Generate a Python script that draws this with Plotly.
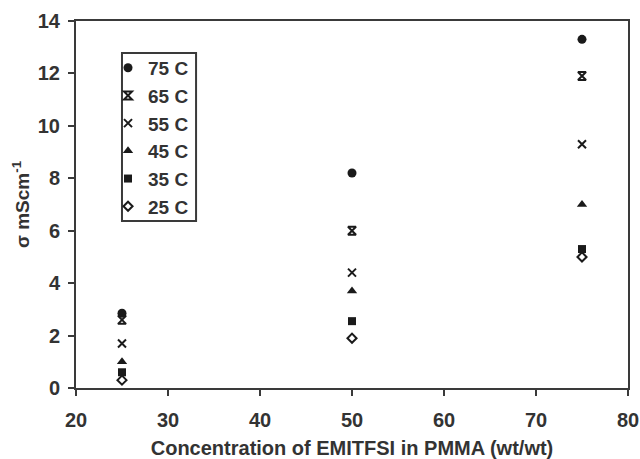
import plotly.graph_objects as go

conc = [25, 50, 75]
labels = ["75 C", "65 C", "55 C", "45 C", "35 C", "25 C"]
s75 = [2.85, 8.2, 13.3]
s65 = [2.6, 6.0, 11.9]
s55 = [1.7, 4.4, 9.3]
s45 = [1.0, 3.7, 7.0]
s35 = [0.6, 2.55, 5.3]
s25 = [0.3, 1.9, 5.0]
series = [s75, s65, s55, s45, s35, s25]

ink = "#1a1a1a"
styles = [
    dict(symbol="circle", size=9, color=ink),
    dict(symbol="hourglass-open", size=8, color=ink, line=dict(width=2, color=ink)),
    dict(symbol="x-thin-open", size=8, color=ink, line=dict(width=2, color=ink)),
    dict(symbol="triangle-up", size=9, color=ink),
    dict(symbol="square", size=8, color=ink),
    dict(symbol="diamond-open", size=7, color=ink, line=dict(width=2, color=ink)),
]

fig = go.Figure()
for i, (lab, vals, st) in enumerate(zip(labels, series, styles)):
    fig.add_trace(go.Scatter(x=conc, y=vals, mode="markers", name=lab,
                             marker=st, legendgroup=f"g{i}"))

axcol = "#3a3a3a"
fam = "Liberation Sans, Arial"
tickfont = dict(family=fam, size=20, color="#333", weight="bold")
fig.update_layout(
    width=640, height=459,
    margin=dict(l=76, r=12, t=21, b=71),
    paper_bgcolor="white", plot_bgcolor="white",
    showlegend=True,
    legend=dict(x=0.058, y=0.924, xanchor="left", yanchor="top",
                borderwidth=0, bgcolor="rgba(0,0,0,0)",
                font=dict(family=fam, size=19, color="#333", weight="bold"),
                tracegroupgap=0, itemwidth=30),
    shapes=[dict(type="rect", xref="paper", yref="paper",
                 x0=0.0833, x1=0.2175, y0=0.455, y1=0.913,
                 line=dict(color=axcol, width=2))],
    xaxis=dict(range=[20, 80], tickvals=[20, 30, 40, 50, 60, 70, 80],
               showgrid=False, zeroline=False, showline=True, linecolor=axcol, linewidth=2,
               mirror=True, ticks="outside", ticklen=6, tickwidth=2, tickcolor=axcol,
               tickfont=tickfont, ticklabelstandoff=7, automargin=False,
               title=dict(text="Concentration of EMITFSI in PMMA (wt/wt)",
                          font=dict(family=fam, size=20, color="#333", weight="bold"),
                          standoff=12)),
    yaxis=dict(range=[0, 14], tickvals=[0, 2, 4, 6, 8, 10, 12, 14],
               showgrid=False, zeroline=False, showline=True, linecolor=axcol, linewidth=2,
               mirror=True, ticks="outside", ticklen=6, tickwidth=2, tickcolor=axcol,
               tickfont=tickfont, ticklabelstandoff=4, automargin=False,
               title=dict(text="σ mScm<sup>-1</sup>",
                          font=dict(family=fam, size=19, color="#333", weight="bold"),
                          standoff=3)),
)

fig.write_html("out.html", config={"displayModeBar": False},
               post_script="document.body.style.margin='0';document.body.style.overflow='hidden';")
